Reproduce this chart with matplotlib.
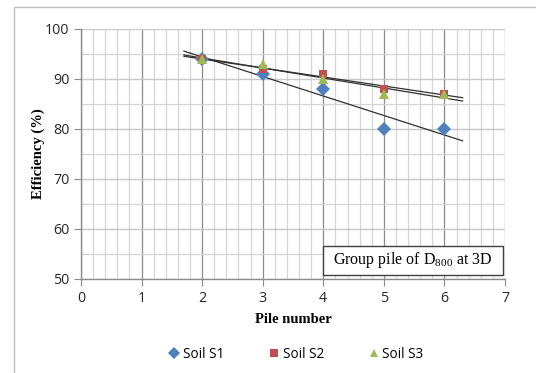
import numpy as np
import matplotlib
matplotlib.use("Agg")
import matplotlib.pyplot as plt
from matplotlib.ticker import MultipleLocator
from matplotlib.lines import Line2D
from matplotlib.patches import Rectangle

piles = [2, 3, 4, 5, 6]
soil_s1 = [94, 91, 88, 80, 80]
soil_s2 = [94, 92, 91, 88, 87]
soil_s3 = [94, 93, 90, 87, 87]
series_names = ["Soil S1", "Soil S2", "Soil S3"]

plt.rcParams["mathtext.fontset"] = "stix"

fig = plt.figure(figsize=(5.36, 3.73), dpi=100)
fig.patches.append(Rectangle((14 / 536, -0.1), 1.2, 1 - 7 / 373 + 0.1,
                             transform=fig.transFigure, fill=False,
                             edgecolor="#bfbfbf", linewidth=1.0))
ax = fig.add_axes([81 / 536, 1 - 279 / 373, 424 / 536, 250 / 373])

ax.set_xlim(0, 7)
ax.set_ylim(50, 100)
ax.xaxis.set_major_locator(MultipleLocator(1))
ax.xaxis.set_minor_locator(MultipleLocator(0.2))
ax.yaxis.set_major_locator(MultipleLocator(10))
ax.yaxis.set_minor_locator(MultipleLocator(5))

ax.grid(which="minor", axis="both", color="#d4d4d4", linewidth=0.9)
ax.grid(which="major", axis="y", color="#c8c8c8", linewidth=1.0)
ax.grid(which="major", axis="x", color="#8c8c8c", linewidth=0.9)
ax.set_axisbelow(True)

for side in ["top", "right"]:
    ax.spines[side].set_visible(False)
for side in ["left", "bottom"]:
    ax.spines[side].set_color("#8c8c8c")
    ax.spines[side].set_linewidth(1.0)

ax.tick_params(which="major", direction="out", length=5, color="#8c8c8c",
               labelsize=10.3, labelcolor="#262626")
ax.tick_params(which="minor", length=0)
for lab in ax.get_xticklabels() + ax.get_yticklabels():
    lab.set_family("Open Sans")

styles = [
    dict(marker="D", color="#4f81bd", ms=7.5),
    dict(marker="s", color="#c0504d", ms=6.0),
    dict(marker="^", color="#9bbb59", ms=7.0),
]
xfit = np.array([1.7, 6.3])
for vals in [soil_s1, soil_s2, soil_s3]:
    k, b = np.polyfit(piles, vals, 1)
    ax.plot(xfit, k * xfit + b, color="#303030", linewidth=0.9, zorder=3)
for vals, st in zip([soil_s1, soil_s2, soil_s3], styles):
    ax.plot(piles, vals, linestyle="none", marker=st["marker"],
            color=st["color"], markersize=st["ms"], markeredgewidth=0, zorder=4)

ax.set_xlabel("Pile number", family="Liberation Serif", fontweight="bold",
              fontsize=10.5, labelpad=5)
ax.set_ylabel("Efficiency (%)", family="Liberation Serif", fontweight="bold",
              fontsize=10.5, labelpad=0)

# caption box inside the plot area
ax.add_patch(Rectangle((4.0, 50.8), 2.97, 5.8, facecolor="white",
                       edgecolor="#404040", linewidth=1.0, zorder=6))
ax.text(5.485, 53.7, r"Group pile of D$\mathregular{_{800}}$ at 3D",
        ha="center", va="center", family="Liberation Serif",
        fontsize=11.5, zorder=7)

handles = [Line2D([], [], linestyle="none", marker=st["marker"],
                  color=st["color"], markersize=st["ms"] * 0.85,
                  markeredgewidth=0) for st in styles]
fig.legend(handles, series_names, loc="center", ncol=3,
           bbox_to_anchor=(0.553, 1 - 354 / 373), frameon=False,
           handlelength=0.7, handletextpad=0.3, columnspacing=3.3,
           prop={"family": "Open Sans", "size": 9.8})

fig.savefig("out.png", dpi=100, facecolor="white")
